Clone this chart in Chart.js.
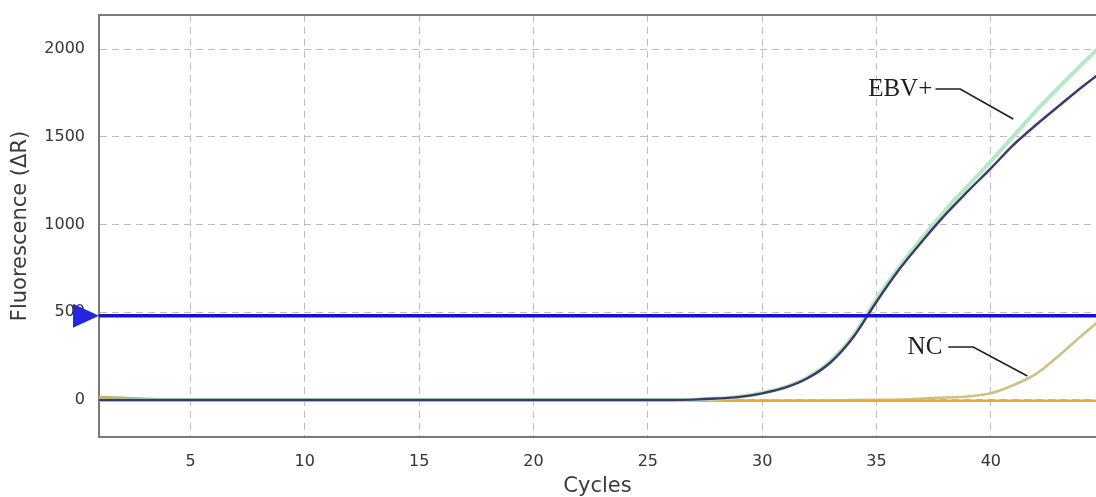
<!DOCTYPE html>
<html><head><meta charset="utf-8">
<script src="https://cdn.jsdelivr.net/npm/chart.js@4.4.0/dist/chart.umd.min.js"></script>
<style>html,body{margin:0;padding:0;background:#fff;overflow:hidden}canvas{display:block}</style>
</head><body>
<canvas id="c" width="1096" height="497" style="width:1096px;height:497px"></canvas>
<script>
const cycles = [1,2,3,4,5,6,7,8,9,10,11,12,13,14,15,16,17,18,19,20,21,22,23,24,25,26,27,28,29,30,31,32,33,34,35,36,37,38,39,40,41,42,43,44,45];
const ebvDark = [0,0,0,0,0,0,0,0,0,0,0,0,0,0,0,0,0,0,0,0,0,0,0,0,0,0,2,8,18,38,70,125,215,360,560,745,905,1055,1190,1320,1455,1570,1678,1785,1885];
const ebvLight = [0,0,0,0,0,0,0,0,0,0,0,0,0,0,0,0,0,0,0,0,0,0,0,0,0,0,2,8,19,40,73,130,222,370,575,760,925,1080,1220,1360,1505,1650,1785,1915,2040];
const ncRising = [-4,-4,-4,-4,-4,-4,-4,-4,-4,-4,-4,-4,-4,-4,-4,-4,-4,-4,-4,-4,-4,-4,-4,-4,-4,-4,-4,-4,-4,-4,-4,-4,-3,-1,1,3,8,14,20,38,85,150,255,370,480];
const ncFlat = [16,12,6,2,-2,-3,-3,-3,-3,-3,-3,-3,-3,-3,-3,-3,-3,-3,-3,-3,-3,-3,-3,-3,-3,-3,-3,-3,-4,-4,-4,-4,-4,-4,-4,-4,-4,-4,-4,-4,-4,-4,-4,-4,-4];
const threshold = 480;
const xTickValues = [5,10,15,20,25,30,35,40];
const yTickValues = [0,500,1000,1500,2000];
const ebvLabel = {text:'EBV+', at:[37.44,1772], leader:[[37.58,1772],[38.66,1772],[40.98,1601]]};
const ncLabel = {text:'NC', at:[37.88,302], leader:[[38.14,302],[39.23,302],[41.6,137]]};

const pts = arr => cycles.map((c,i)=>({x:c,y:arr[i]}));

const decor = {
  id:'decor',
  afterDraw(chart){
    const {ctx, chartArea:a, scales:{x,y}} = chart;
    ctx.save();
    ctx.strokeStyle='#7a7a7a'; ctx.lineWidth=2;
    ctx.beginPath(); ctx.moveTo(a.left-1, a.top); ctx.lineTo(a.right, a.top); ctx.stroke();
    const ty = y.getPixelForValue(threshold);
    ctx.fillStyle='#2626de';
    ctx.beginPath(); ctx.moveTo(a.left, ty); ctx.lineTo(a.left-26, ty-12); ctx.lineTo(a.left-26, ty+12); ctx.closePath(); ctx.fill();
    ctx.fillStyle='#1e1e1e'; ctx.strokeStyle='#1e1e1e'; ctx.lineWidth=1.6;
    ctx.font='25px "Liberation Serif"'; ctx.textAlign='right'; ctx.textBaseline='middle';
    for (const l of [ebvLabel, ncLabel]) {
      ctx.fillText(l.text, x.getPixelForValue(l.at[0]), y.getPixelForValue(l.at[1]));
      ctx.beginPath();
      l.leader.forEach((p,i)=>{const px=x.getPixelForValue(p[0]), py=y.getPixelForValue(p[1]); i?ctx.lineTo(px,py):ctx.moveTo(px,py);});
      ctx.stroke();
    }
    ctx.restore();
  }
};

const lineDs = (data,color,width) => ({data, borderColor:color, borderWidth:width, pointRadius:0, fill:false, cubicInterpolationMode:'monotone'});

new Chart(document.getElementById('c'), {
  type:'line',
  data:{datasets:[
    {data:[{x:cycles[0],y:threshold},{x:cycles[cycles.length-1],y:threshold}], borderColor:'#1414c8', borderWidth:3.5, pointRadius:0, fill:false},
    lineDs(pts(ebvDark),'#3b396c',2.4),
    lineDs(pts(ebvLight),'#b6e8c6',4),
    lineDs(pts(ncFlat),'#e8a832',2.6),
    lineDs(pts(ncRising),'#cfc184',2.6)
  ]},
  options:{
    responsive:false, animation:false, devicePixelRatio:1,
    layout:{padding:{top:15,right:0,bottom:0,left:0}},
    plugins:{legend:{display:false}, tooltip:{enabled:false}},
    scales:{
      x:{type:'linear', min:1, max:44.6,
        afterBuildTicks:s=>{s.ticks=xTickValues.map(v=>({value:v}));},
        afterFit:s=>{s.height=60; s.paddingLeft=0; s.paddingRight=0;},
        grid:{color:'#bdbdbd', lineWidth:1, drawTicks:false},
        border:{display:true, color:'#7a7a7a', width:2, dash:[7,5]},
        ticks:{padding:15, color:'#333', font:{family:'DejaVu Sans', size:16}, maxRotation:0, callback:v=>String(v)},
        title:{display:true, text:'Cycles', color:'#3a3a3a', font:{family:'DejaVu Sans', size:21, lineHeight:1}, padding:{top:0,bottom:0}}
      },
      y:{type:'linear', min:-211, max:2194,
        afterBuildTicks:s=>{s.ticks=yTickValues.map(v=>({value:v}));},
        afterFit:s=>{s.width=99; s.paddingTop=0; s.paddingBottom=0;},
        grid:{color:'#bdbdbd', lineWidth:1, drawTicks:false},
        border:{display:true, color:'#7a7a7a', width:2, dash:[7,5]},
        ticks:{padding:14, color:'#333', font:{family:'DejaVu Sans', size:16}, callback:v=>String(v)},
        title:{display:true, text:'Fluorescence (ΔR)', color:'#3a3a3a', font:{family:'DejaVu Sans', size:21, lineHeight:1}, padding:{top:10,bottom:0}}
      }
    }
  },
  plugins:[decor]
});
</script>
</body></html>
